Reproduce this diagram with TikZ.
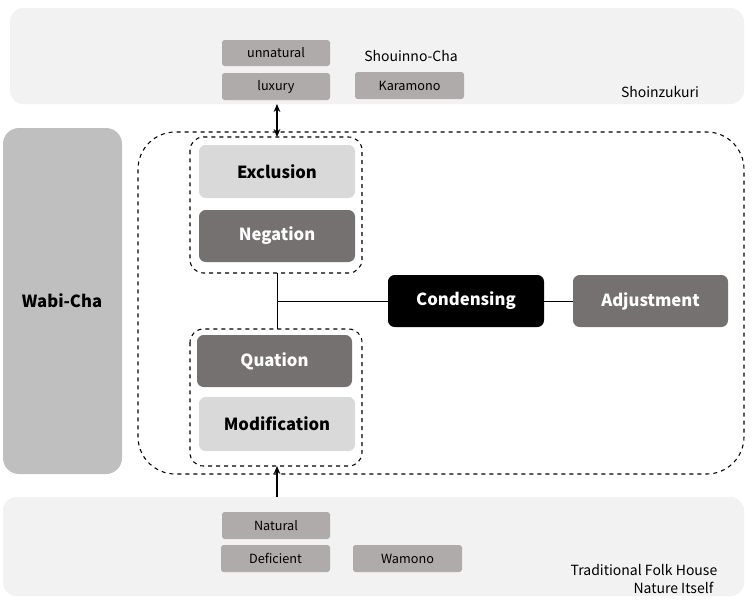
\documentclass[tikz,border=0pt]{standalone}
\usepackage{fontspec}
\setmainfont{Noto Sans CJK KR}
\usetikzlibrary{arrows.meta}
\definecolor{band}{HTML}{F2F2F2}
\definecolor{smallg}{HTML}{AFABAB}
\definecolor{lightg}{HTML}{D9D9D9}
\definecolor{darkg}{HTML}{767171}
\definecolor{wabi}{HTML}{BFBFBF}
\tikzset{
  px/.style={x=0.75pt,y=-0.75pt},
  bandbox/.style={fill=band,draw=none,rounded corners=10pt},
  tag/.style={fill=smallg,draw=none,rounded corners=2pt,font=\fontsize{9.5}{11}\selectfont},
  lightbox/.style={fill=lightg,draw=none,rounded corners=5pt,font=\bfseries\fontsize{12.5}{14}\selectfont},
  darkbox/.style={fill=darkg,draw=none,rounded corners=5pt,text=white,font=\bfseries\fontsize{12.5}{14}\selectfont},
  dgroup/.style={draw,dashed,thick,rounded corners=10pt},
  lbl/.style={font=\fontsize{10.5}{12}\selectfont},
  arr/.style={-{Stealth[length=6pt,width=5pt]},thick}
}
\newcommand{\bx}[4]{\path[#1] (#2) rectangle (#3) node[midway] (#4) {};}
\begin{document}
\begin{tikzpicture}[px]
\useasboundingbox (0,0) rectangle (752,604);
\fill[bandbox] (10,8) rectangle (744,104);
\fill[bandbox] (3,497) rectangle (744,596);
\fill[wabi,rounded corners=12pt] (3,128) rectangle (122,474);
\node[font=\bfseries\fontsize{12.5}{14}\selectfont] (wabi) at (62,301) {Wabi-Cha};
\draw[dgroup,rounded corners=28pt] (138,132) rectangle (744,474);
% top tags
\path[tag] (222,40) rectangle (330,66) node[midway] (unn) {unnatural};
\path[tag] (222,73) rectangle (330,100) node[midway] (lux) {luxury};
\path[tag] (355,72) rectangle (464,99) node[midway] (kar) {Karamono};
\node[lbl] (sho) at (411,56) {Shouinno-Cha};
\node[lbl] (shz) at (660,92) {Shoinzukuri};
% groups
\draw[dgroup] (190,137) rectangle (362,273);
\path (190,137) rectangle (362,273) node[midway] (g1) {};
\coordinate (g1t) at (277,137);
\coordinate (g1b) at (277,273);
\path[lightbox] (199,145) rectangle (355,198) node[midway] (exc) {Exclusion};
\path[darkbox] (199,210) rectangle (355,262) node[midway] (neg) {Negation};
\draw[dgroup] (190,329) rectangle (362,466);
\coordinate (g2t) at (277,329);
\coordinate (g2b) at (277,466);
\path[darkbox] (197,335) rectangle (352,387) node[midway] (quo) {Quation};
\path[lightbox] (199,397) rectangle (355,451) node[midway] (mod) {Modification};
\path[fill=black,rounded corners=5pt] (388,275) rectangle (544,327) node[midway,text=white,font=\bfseries\fontsize{12.5}{14}\selectfont] (con) {Condensing};
\path[darkbox] (573,275) rectangle (728,327) node[midway] (adj) {Adjustment};
\coordinate (jn) at (277,301);
\coordinate (conl) at (388,301);
\coordinate (conr) at (544,301);
\coordinate (adjl) at (573,301);
\draw (g1b) -- (g2t);
\draw (jn) -- (conl);
\draw (conr) -- (adjl);
\coordinate (tb) at (277,104);
\coordinate (bb) at (277,497);
\draw[arr,{Stealth[length=6pt,width=5pt]}-{Stealth[length=6pt,width=5pt]}] (tb) -- (g1t);
\draw[arr] (bb) -- (g2b);
% bottom tags
\path[tag] (222,512) rectangle (330,539) node[midway] (nat) {Natural};
\path[tag] (221,545) rectangle (330,572) node[midway] (def) {Deficient};
\path[tag] (353,545) rectangle (462,572) node[midway] (wam) {Wamono};
\node[lbl,anchor=east] (tfh) at (722,570) {Traditional Folk House};
\node[lbl,anchor=east] (nit) at (718,588) {Nature Itself};
\end{tikzpicture}
\end{document}
